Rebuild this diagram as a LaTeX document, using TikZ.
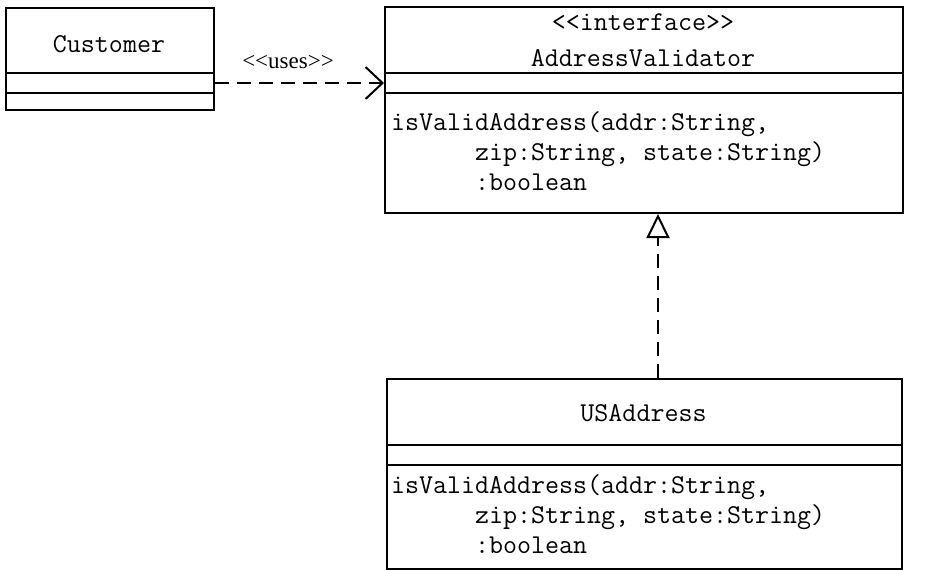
\documentclass[tikz,border=0pt]{standalone}
\usepackage{fontspec}
\newfontfamily\stereofont{Liberation Serif}
\usetikzlibrary{arrows.meta}
\begin{document}
\begin{tikzpicture}[x=0.5pt,y=-0.5pt,line width=1pt,
	classbox/.style={draw,anchor=north west,inner sep=0pt},
	mono/.style={font=\fontsize{13.6}{15}\selectfont\ttfamily,inner sep=0pt},
	ops/.style={mono,align=left,anchor=base west},
	dep/.style={dash pattern=on 7pt off 4pt,-{Straight Barb[length=8.5pt,width=16pt]}},
	real/.style={dash pattern=on 7pt off 4pt,-{Triangle[open,length=12pt,width=11.5pt,fill=white]}}]
	\useasboundingbox (0,0) rectangle (932,569);
	% class boxes
	\node[classbox,minimum width=104pt,minimum height=51pt] (cust) at (5,7) {};
	\node[classbox,minimum width=259pt,minimum height=103pt] (valid) at (384,6) {};
	\node[classbox,minimum width=257.5pt,minimum height=95pt] (usa) at (386,378) {};
	\foreach \y in {73,93}{\draw (5,\y)--(213,\y); \draw (384,\y)--(902,\y);}
	\foreach \y in {445,465}{\draw (386,\y)--(901,\y);}
	% texts
	\node[mono] (custname) at (109,44) {Customer};
	\node[mono] (stereo) at (643,22) {<{}<interface>{}>};
	\node[mono] (validname) at (643,58) {AddressValidator};
	\node[mono] (usaname) at (643.5,413) {USAddress};
	% base = baseline of the last line
	\node[ops] (validops) at (390,190) {isValidAddress(addr:String,\\\phantom{isVali}zip:String, state:String)\\\phantom{isVali}:boolean};
	\node[ops] (usaops) at (390,553) {isValidAddress(addr:String,\\\phantom{isVali}zip:String, state:String)\\\phantom{isVali}:boolean};
	% relations
	\draw[dep] (cust.east |- 0,83)--(valid.west |- 0,83);
	\node[font=\stereofont\fontsize{11.5}{13}\selectfont,inner sep=0pt] (uses) at (288,62) {\textless\textless uses\textgreater\textgreater};
	\draw[real] (usa.north -| 658,0)--(valid.south -| 658,0);
\end{tikzpicture}
\end{document}
